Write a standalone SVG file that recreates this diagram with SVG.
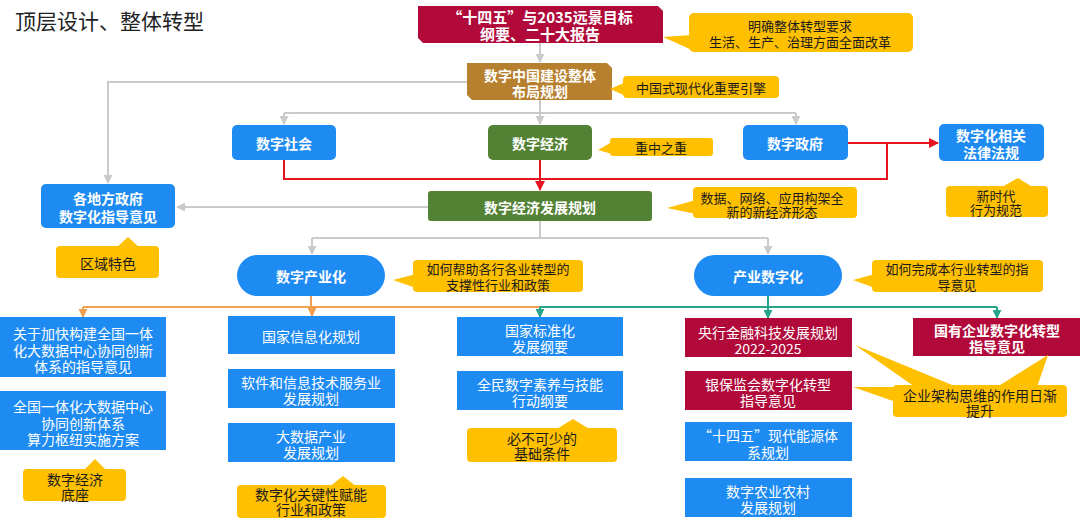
<svg xmlns="http://www.w3.org/2000/svg" width="1080" height="524" viewBox="0 0 1080 524">
<style>
text{font-family:"Microsoft YaHei","Noto Sans CJK SC","Noto Sans",sans-serif;text-anchor:middle;dominant-baseline:central}
.w{fill:#fff;font-size:14px}
.wb{fill:#fff;font-size:14px;font-weight:bold}
.k{fill:#1a1a1a;font-size:13px}
.blue{fill:#1E8BF3}
.red{fill:#B0093A}
.green{fill:#548235}
.brown{fill:#B7802F}
.yel{fill:#FFC000}
.g{fill:none;stroke:#CACACA;stroke-width:2}
.r{fill:none;stroke:#E5141E;stroke-width:2}
.o{fill:none;stroke:#F0A050;stroke-width:2}
.t{fill:none;stroke:#26A38B;stroke-width:2}
</style>
<defs>
<marker id="ag" viewBox="0 0 10 10" refX="9" refY="5" markerWidth="9" markerHeight="9" markerUnits="userSpaceOnUse" orient="auto"><path d="M0,0 L10,5 L0,10 z" fill="#CACACA"/></marker>
<marker id="ar" viewBox="0 0 10 10" refX="9" refY="5" markerWidth="10" markerHeight="10" markerUnits="userSpaceOnUse" orient="auto"><path d="M0,0 L10,5 L0,10 z" fill="#E5141E"/></marker>
<marker id="ao" viewBox="0 0 10 10" refX="9" refY="5" markerWidth="9" markerHeight="9" markerUnits="userSpaceOnUse" orient="auto"><path d="M0,0 L10,5 L0,10 z" fill="#F0A050"/></marker>
<marker id="at" viewBox="0 0 10 10" refX="9" refY="5" markerWidth="9" markerHeight="9" markerUnits="userSpaceOnUse" orient="auto"><path d="M0,0 L10,5 L0,10 z" fill="#26A38B"/></marker>
</defs>
<rect width="1080" height="524" fill="#fff"/>
<text x="15" y="20" style="text-anchor:start;font-size:21px;fill:#222">顶层设计、整体转型</text>

<g id="connectors">
<path class="g" d="M540,43 V62" marker-end="url(#ag)"/>
<path class="g" d="M467,82 H108 V183" marker-end="url(#ag)"/>
<path class="g" d="M540,100 V124" marker-end="url(#ag)"/>
<path class="g" d="M284,113 H796"/>
<path class="g" d="M284,113 V124" marker-end="url(#ag)"/>
<path class="g" d="M796,113 V124" marker-end="url(#ag)"/>
<path class="g" d="M428,207 H177" marker-end="url(#ag)"/>
<path class="g" d="M540,221 V238"/>
<path class="g" d="M312,238 H768"/>
<path class="g" d="M312,238 V254" marker-end="url(#ag)"/>
<path class="g" d="M768,238 V254" marker-end="url(#ag)"/>
<path class="r" d="M284,160 V179 H887 V143"/>
<path class="r" d="M848,143 H938" marker-end="url(#ar)"/>
<path class="r" d="M540,160 V190" marker-end="url(#ar)"/>
<path class="o" d="M311,296 V307"/>
<path class="o" d="M83,307 H540"/>
<path class="o" d="M83,307 V317" marker-end="url(#ao)"/>
<path class="o" d="M312,307 V316" marker-end="url(#ao)"/>
<path class="t" d="M768,296 V307"/>
<path class="t" d="M540,307 H997"/>
<path class="t" d="M540,307 V317" marker-end="url(#at)"/>
<path class="t" d="M768,307 V318" marker-end="url(#at)"/>
<path class="t" d="M997,307 V318" marker-end="url(#at)"/>
</g>

<g id="n-outline">
<polygon class="red" points="418,6 658,6 663,11 663,43 423,43 418,38"/>
<text class="wb" x="540" y="16" style="font-size:15px">“十四五”与2035远景目标</text>
<text class="wb" x="540" y="33" style="font-size:15px">纲要、二十大报告</text>
</g>
<g id="c-reform">
<rect class="yel" x="689" y="13" width="224" height="39" rx="5"/>
<polygon class="yel" points="663,37 692,35 692,50"/>
<text class="k" x="800" y="25">明确整体转型要求</text>
<text class="k" x="800" y="41">生活、生产、治理方面全面改革</text>
</g>

<g id="n-digital-china">
<polygon class="brown" points="467,63 607,63 612,68 612,100 472,100 467,95"/>
<text class="wb" x="540" y="75">数字中国建设整体</text>
<text class="wb" x="540" y="91">布局规划</text>
</g>
<g id="c-engine">
<rect class="yel" x="623" y="76" width="156" height="22" rx="4"/>
<polygon class="yel" points="610,89 626,82 626,96"/>
<text class="k" x="701" y="87">中国式现代化重要引擎</text>
</g>

<g id="n-society">
<rect class="blue" x="232" y="125" width="104" height="35" rx="5"/>
<text class="wb" x="284" y="142.5">数字社会</text>
</g>
<g id="n-economy">
<rect class="green" x="488" y="125" width="104" height="35" rx="5"/>
<text class="wb" x="540" y="142.5">数字经济</text>
</g>
<g id="c-key">
<rect class="yel" x="610" y="138" width="103" height="18" rx="3"/>
<polygon class="yel" points="598,150 612,142 612,154"/>
<text class="k" x="661" y="147">重中之重</text>
</g>
<g id="n-government">
<rect class="blue" x="743" y="125" width="105" height="35" rx="5"/>
<text class="wb" x="795" y="142.5">数字政府</text>
</g>
<g id="n-law">
<rect class="blue" x="939" y="124" width="105" height="37" rx="5"/>
<text class="wb" x="991" y="135">数字化相关</text>
<text class="wb" x="991" y="152">法律法规</text>
</g>
<g id="c-norm">
<rect class="yel" x="946" y="186" width="102" height="31" rx="4"/>
<polygon class="yel" points="1000,188 1018,178 1034,188"/>
<text class="k" x="996" y="195">新时代</text>
<text class="k" x="996" y="209">行为规范</text>
</g>

<g id="n-local">
<rect class="blue" x="41" y="184" width="134" height="44" rx="5"/>
<text class="wb" x="108" y="198">各地方政府</text>
<text class="wb" x="108" y="216">数字化指导意见</text>
</g>
<g id="c-region">
<rect class="yel" x="56" y="246" width="103" height="32" rx="4"/>
<polygon class="yel" points="116,248 128,237 140,248"/>
<text class="k" x="108" y="263" style="font-size:14px">区域特色</text>
</g>

<g id="n-plan">
<rect class="green" x="428" y="191" width="224" height="30" rx="3"/>
<text class="wb" x="540" y="207">数字经济发展规划</text>
</g>
<g id="c-form">
<rect class="yel" x="693" y="187" width="164" height="31" rx="4"/>
<polygon class="yel" points="667,208 696,200 696,214"/>
<text class="k" x="772" y="197">数据、网络、应用构架全</text>
<text class="k" x="772" y="211">新的新经济形态</text>
</g>

<g id="n-industrialization">
<rect class="blue" x="237" y="255" width="148" height="41" rx="20.5"/>
<text class="wb" x="311" y="276">数字产业化</text>
</g>
<g id="c-support">
<rect class="yel" x="413" y="260" width="170" height="32" rx="4"/>
<polygon class="yel" points="393,280 416,274 416,288"/>
<text class="k" x="498" y="268">如何帮助各行各业转型的</text>
<text class="k" x="498" y="284">支撑性行业和政策</text>
</g>
<g id="n-digitalization">
<rect class="blue" x="694" y="255" width="148" height="41" rx="20.5"/>
<text class="wb" x="768" y="276">产业数字化</text>
</g>
<g id="c-guide">
<rect class="yel" x="872" y="260" width="171" height="32" rx="4"/>
<polygon class="yel" points="853,280 875,274 875,288"/>
<text class="k" x="957" y="268">如何完成本行业转型的指</text>
<text class="k" x="957" y="284">导意见</text>
</g>

<g id="n-bigdata-opinion">
<rect class="blue" x="0" y="317" width="166" height="60"/>
<text class="w" x="83" y="333">关于加快构建全国一体</text>
<text class="w" x="83" y="349.5">化大数据中心协同创新</text>
<text class="w" x="83" y="366">体系的指导意见</text>
</g>
<g id="n-computing">
<rect class="blue" x="0" y="391" width="166" height="59"/>
<text class="w" x="83" y="406">全国一体化大数据中心</text>
<text class="w" x="83" y="422.5">协同创新体系</text>
<text class="w" x="83" y="439">算力枢纽实施方案</text>
</g>
<g id="c-base">
<rect class="yel" x="23" y="469" width="103" height="32" rx="4"/>
<polygon class="yel" points="83,471 95,459 107,471"/>
<text class="k" x="75" y="479" style="font-size:14px">数字经济</text>
<text class="k" x="75" y="494" style="font-size:14px">底座</text>
</g>

<g id="n-info-plan">
<rect class="blue" x="228" y="316" width="167" height="38"/>
<text class="w" x="311" y="336">国家信息化规划</text>
</g>
<g id="n-software">
<rect class="blue" x="228" y="369" width="167" height="39"/>
<text class="w" x="311" y="382">软件和信息技术服务业</text>
<text class="w" x="311" y="398">发展规划</text>
</g>
<g id="n-bigdata-industry">
<rect class="blue" x="228" y="423" width="167" height="39"/>
<text class="w" x="311" y="436">大数据产业</text>
<text class="w" x="311" y="452">发展规划</text>
</g>
<g id="c-enable">
<rect class="yel" x="237" y="485" width="149" height="33" rx="4"/>
<polygon class="yel" points="329,487 343,476 357,487"/>
<text class="k" x="311" y="494" style="font-size:14px">数字化关键性赋能</text>
<text class="k" x="311" y="509" style="font-size:14px">行业和政策</text>
</g>

<g id="n-standard">
<rect class="blue" x="457" y="317" width="166" height="39"/>
<text class="w" x="540" y="329.5">国家标准化</text>
<text class="w" x="540" y="346">发展纲要</text>
</g>
<g id="n-literacy">
<rect class="blue" x="457" y="371" width="166" height="39"/>
<text class="w" x="540" y="384">全民数字素养与技能</text>
<text class="w" x="540" y="400">行动纲要</text>
</g>
<g id="c-basic">
<rect class="yel" x="467" y="428" width="150" height="34" rx="4"/>
<polygon class="yel" points="555,430 573,419 591,430"/>
<text class="k" x="542" y="438" style="font-size:14px">必不可少的</text>
<text class="k" x="542" y="453" style="font-size:14px">基础条件</text>
</g>

<g id="n-fintech">
<rect class="red" x="685" y="318" width="167" height="39"/>
<text class="w" x="768" y="332">央行金融科技发展规划</text>
<text class="w" x="768" y="348">2022-2025</text>
</g>
<g id="n-cbirc">
<rect class="red" x="685" y="371" width="167" height="39"/>
<text class="w" x="768" y="384">银保监会数字化转型</text>
<text class="w" x="768" y="400">指导意见</text>
</g>
<g id="n-energy">
<rect class="blue" x="685" y="422" width="167" height="39"/>
<text class="w" x="768" y="435">“十四五”现代能源体</text>
<text class="w" x="768" y="452">系规划</text>
</g>
<g id="n-agri">
<rect class="blue" x="685" y="478" width="167" height="39"/>
<text class="w" x="768" y="491">数字农业农村</text>
<text class="w" x="768" y="507">发展规划</text>
</g>

<g id="n-soe">
<rect class="red" x="913" y="318" width="167" height="38"/>
<text class="wb" x="997" y="330">国有企业数字化转型</text>
<text class="wb" x="997" y="346">指导意见</text>
</g>
<g id="c-ea">
<polygon class="yel" points="855,345 915,387 957,387"/>
<polygon class="yel" points="853,387 896,387 896,402"/>
<polygon class="yel" points="1048,355 997,387 1037,387"/>
<rect class="yel" x="893" y="385" width="174" height="32" rx="4"/>
<text class="k" x="980" y="395" style="font-size:14px">企业架构思维的作用日渐</text>
<text class="k" x="980" y="410" style="font-size:14px">提升</text>
</g>
</svg>
